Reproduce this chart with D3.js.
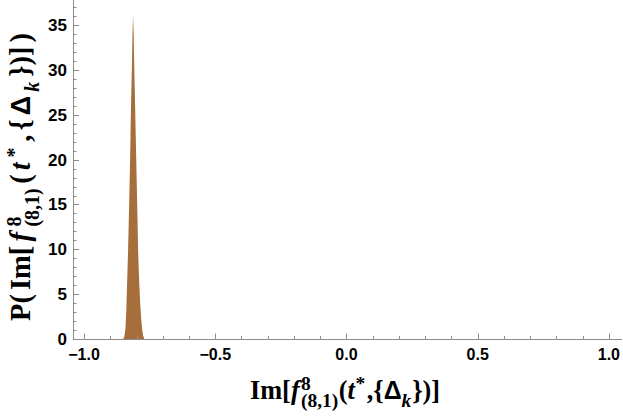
<!DOCTYPE html>
<html><head><meta charset="utf-8">
<script src="https://cdn.jsdelivr.net/npm/d3@7/dist/d3.min.js"></script>
<style>body{margin:0;background:#fff}svg{display:block}</style>
</head><body>
<script>
// ---- data ----
const densityX = [-0.851,-0.846,-0.842,-0.839,-0.836,-0.832,-0.828,-0.824,-0.821,-0.817,-0.815,-0.813,-0.811,-0.809,-0.805,-0.801,-0.797,-0.794,-0.790,-0.786,-0.782,-0.778,-0.775,-0.770];
const densityY = [0,0.3,1.2,3.0,6.0,10.0,15.0,20.5,26.0,31.0,34.0,35.8,34.0,31.0,25.5,20.0,14.5,10.0,6.5,4.0,2.2,1.0,0.4,0];
const tipX = [-0.8155,-0.8135,-0.8125,-0.811];
const tipY = [31.0,36.2,36.0,31.0];
const xTicks = [-1.0,-0.5,0.0,0.5,1.0];
const xTickLabels = ["\u22121.0","\u22120.5","0.0","0.5","1.0"];
const yTicks = [0,5,10,15,20,25,30,35];
const yTickLabels = ["0","5","10","15","20","25","30","35"];

const W=623,H=417;
const svg=d3.select("body").append("svg").attr("width",W).attr("height",H);
const x=d3.scaleLinear().domain([-1.042,1.05]).range([73,622]);
const y=d3.scaleLinear().domain([0,37.8]).range([339,0]);

const area=d3.area().x((d)=>x(d[0])).y0(y(0)).y1(d=>y(d[1])).curve(d3.curveLinear);
svg.append("path").datum(tipX.map((v,i)=>[v,tipY[i]])).attr("d",area).attr("fill","#dfbd94");
svg.append("path").datum(densityX.map((v,i)=>[v,densityY[i]])).attr("d",area).attr("fill","#a56e3a");

const axCol="#8c8c8c";
// x axis
svg.append("line").attr("x1",73).attr("x2",622).attr("y1",339.5).attr("y2",339.5).attr("stroke",axCol);
const xMinor=d3.range(-10,11).map(i=>i/10).filter(v=>Math.abs(v*2-Math.round(v*2))>1e-6);
svg.selectAll(".xmin").data(xMinor).enter().append("line")
 .attr("x1",d=>Math.round(x(d))+0.5).attr("x2",d=>Math.round(x(d))+0.5).attr("y1",339).attr("y2",336).attr("stroke",axCol);
svg.selectAll(".xmaj").data(xTicks).enter().append("line")
 .attr("x1",d=>Math.round(x(d))+0.5).attr("x2",d=>Math.round(x(d))+0.5).attr("y1",339).attr("y2",333.5).attr("stroke",axCol);
svg.selectAll(".xl").data(xTicks).enter().append("text")
 .attr("x",d=>x(d)).attr("y",360).attr("text-anchor","middle")
 .attr("font-family","Liberation Sans, Arial, sans-serif").attr("font-weight","bold").attr("font-size",16)
 .text((d,i)=>xTickLabels[i]);
// y axis
svg.append("line").attr("x1",73.5).attr("x2",73.5).attr("y1",0).attr("y2",339).attr("stroke",axCol);
const yMinor=d3.range(0,38).filter(v=>v%5!==0);
svg.selectAll(".ymin").data(yMinor).enter().append("line")
 .attr("x1",73).attr("x2",76.5).attr("y1",d=>Math.round(y(d))+0.5).attr("y2",d=>Math.round(y(d))+0.5).attr("stroke",axCol);
svg.selectAll(".ymaj").data(yTicks).enter().append("line")
 .attr("x1",73).attr("x2",79).attr("y1",d=>Math.round(y(d))+0.5).attr("y2",d=>Math.round(y(d))+0.5).attr("stroke",axCol);
svg.selectAll(".yl").data(yTicks).enter().append("text")
 .attr("x",67).attr("y",d=>y(d)+6).attr("text-anchor","end")
 .attr("font-family","Liberation Sans, Arial, sans-serif").attr("font-weight","bold").attr("font-size",17)
 .text((d,i)=>yTickLabels[i]);

// rich label layout helper: scale font toward a target width (capped), spread any remainder as small gaps
function richLabel(g, pieces, size, maxSize, target, scs){
  const serif="Liberation Serif, Times New Roman, serif", sans="Liberation Sans, Arial, sans-serif";
  const meas=g.append("text").attr("visibility","hidden");
  function w(t,fs,fam,it){meas.attr("font-size",fs).attr("font-family",fam).attr("font-weight","bold").attr("font-style",it?"italic":"normal").text(t);return meas.node().getComputedTextLength();}
  function layout(size,gap){
    let cx=0;const items=[];
    pieces.forEach((p,i)=>{
      if(p.stack){
        let mw=0;
        p.stack.forEach(s=>{const fs=size*scs;const fam=s.sans?sans:serif;const ww=w(s.t,fs,fam,s.it);mw=Math.max(mw,ww);items.push({t:s.t,x:cx,dy:s.dy*size,fs,fam,it:s.it});});
        cx+=mw+(p.after||0)*size;
      }else{
        const fs=size*(p.sc||1);const fam=p.sans?sans:serif;
        items.push({t:p.t,x:cx,dy:(p.dy||0)*size,fs,fam,it:p.it});
        cx+=w(p.t,fs,fam,p.it)+(p.after||0)*size;
      }
      if(i<pieces.length-1) cx+=gap;
    });
    return {items,cx};
  }
  let L=layout(size,0);
  size=Math.min(maxSize,size*target/L.cx);
  L=layout(size,0);
  L=layout(size,Math.max(0,(target-L.cx)/(pieces.length-1)));
  meas.remove();
  L.items.forEach(it=>{
    g.append("text").attr("x",it.x-L.cx/2).attr("y",it.dy).attr("font-size",it.fs).attr("font-family",it.fam)
     .attr("font-weight","bold").attr("font-style",it.it?"italic":"normal").attr("fill","#000").text(it.t);
  });
}
function corePieces(sup){return [
  {t:"Im["},{t:"f",it:true,after:0.05},
  {stack:[{t:"8",dy:-sup},{t:"(8,1)",dy:0.3}],after:0.02},
  {t:"("},{t:"t",it:true,after:0.02},{stack:[{t:"*",dy:-sup}],after:0.06},{t:","},{t:"{"},{t:"\u0394",sans:true,sc:0.95},
  {stack:[{t:"k",it:true,dy:0.3}],after:0.03},{t:"})]"}
];}
richLabel(svg.append("g").attr("transform","translate(345,399)"),corePieces(0.36),23,40,190,0.74);
const ypieces=[{t:"P("}].concat(corePieces(0.3)).concat([{t:")"}]);
richLabel(svg.append("g").attr("transform","translate(30,177) rotate(-90)"),ypieces,27,28.5,288,0.7);
</script>
</body></html>
